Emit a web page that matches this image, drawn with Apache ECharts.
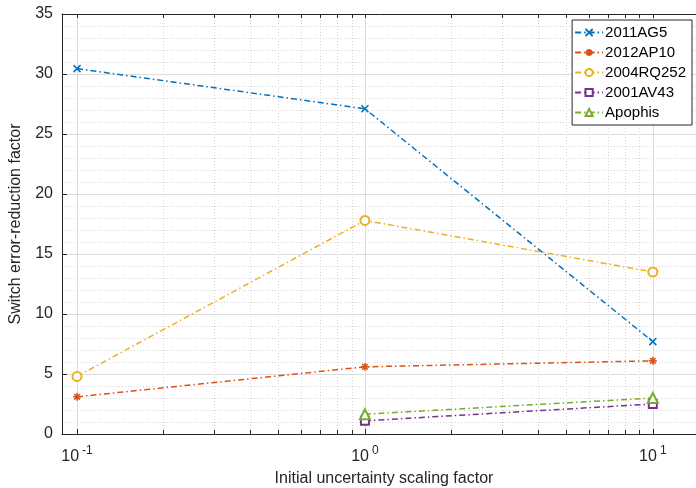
<!DOCTYPE html>
<html>
<head>
<meta charset="utf-8">
<script src="https://cdn.jsdelivr.net/npm/echarts@6/dist/echarts.min.js"></script>
<style>
  html, body { margin: 0; padding: 0; background: #fff; }
  #chart { width: 696px; height: 488px; }
</style>
</head>
<body>
<div id="chart"></div>
<script>
// scaling factors (x) and error-reduction factors (y)
var xValues = [0.1, 1, 10];
var ag5 = [30.45, 27.1, 7.7];
var ap10 = [3.1, 5.6, 6.1];
var rq252 = [4.8, 17.8, 13.5];
var av43 = [null, 1.1, 2.5];
var apophis = [null, 1.65, 3.0];

var majorTicks = [0.1, 1, 10];
var minorTicks = [0.2, 0.3, 0.4, 0.5, 0.6, 0.7, 0.8, 0.9, 2, 3, 4, 5, 6, 7, 8, 9];
var superscripts = { '0.1': '-1', '1': '0', '10': '1' };

var font = 'Liberation Sans, Arial, Helvetica, sans-serif';
var ink = '#262626';

function pairs(vals) {
  var out = [];
  for (var i = 0; i < xValues.length; i++) {
    if (vals[i] != null) out.push([xValues[i], vals[i]]);
  }
  return out;
}

var dashDot = [6, 3, 1.5, 3];
var xMin = 0.08867, xMax = 15.3;

var chart = echarts.init(document.getElementById('chart'), null, { renderer: 'canvas' });

function makeSeries(name, vals, color, symbol, size) {
  return {
    name: name,
    type: 'line',
    data: pairs(vals),
    symbol: symbol,
    symbolSize: size,
    showAllSymbol: true,
    lineStyle: { color: color, width: 1.5, type: dashDot },
    itemStyle: { color: color, borderColor: color, borderWidth: 1.5 },
    emphasis: { disabled: true },
    z: 5
  };
}

var option = {
  animation: false,
  backgroundColor: '#fff',
  textStyle: { fontFamily: font },
  grid: { left: 62, right: -10, top: 14, bottom: 54, containLabel: false, outerBoundsMode: 'none' },
  legend: {
    orient: 'vertical',
    right: 4,
    top: 20,
    backgroundColor: '#fff',
    borderColor: ink,
    borderWidth: 1,
    borderRadius: 0,
    padding: [5, 6, 5, 2],
    itemWidth: 28,
    itemHeight: 9,
    itemGap: 5,
    textStyle: { fontFamily: font, fontSize: 15, color: '#000', padding: [0, 0, 0, -3] },
    data: ['2011AG5', '2012AP10', '2004RQ252', '2001AV43', 'Apophis']
  },
  xAxis: [
    {
      type: 'log',
      min: xMin,
      max: xMax,
      position: 'bottom',
      name: 'Initial uncertainty scaling factor',
      nameLocation: 'middle',
      nameGap: 37,
      nameTextStyle: { fontFamily: font, fontSize: 16, color: ink },
      axisLine: { show: true, lineStyle: { color: ink, width: 1 } },
      axisTick: { show: true, inside: true, length: 5, customValues: majorTicks, lineStyle: { color: ink } },
      axisLabel: {
        customValues: majorTicks,
        margin: 11,
        formatter: function (v) {
          var key = String(Math.round(v * 10) / 10);
          return '{b|10}{s|' + (superscripts[key] || '') + '}';
        },
        rich: {
          b: { fontFamily: font, fontSize: 16, color: ink },
          s: { fontFamily: font, fontSize: 12, color: ink, verticalAlign: 'top', padding: [0, 0, 12, 3] }
        }
      },
      splitLine: { show: true, lineStyle: { color: '#dcdcdc', width: 1 } }
    },
    {
      type: 'log',
      min: xMin,
      max: xMax,
      position: 'bottom',
      axisLine: { show: false },
      axisTick: { show: true, inside: true, length: 4, customValues: minorTicks, lineStyle: { color: ink } },
      axisLabel: { show: false },
      splitLine: { show: true, lineStyle: { color: '#d6d6d6', width: 1, type: [1, 2] } }
    },
    {
      type: 'log',
      min: xMin,
      max: xMax,
      position: 'top',
      axisLine: { show: true, lineStyle: { color: ink, width: 1 } },
      axisTick: { show: true, inside: true, length: 4, customValues: majorTicks.concat(minorTicks), lineStyle: { color: ink } },
      axisLabel: { show: false },
      splitLine: { show: false }
    }
  ],
  yAxis: {
    type: 'value',
    min: 0,
    max: 35,
    interval: 5,
    name: 'Switch error-reduction factor',
    nameLocation: 'middle',
    nameGap: 38,
    nameTextStyle: { fontFamily: font, fontSize: 16, color: ink },
    axisLine: { show: true, lineStyle: { color: ink, width: 1 } },
    axisTick: { show: true, inside: true, length: 5, lineStyle: { color: ink } },
    axisLabel: { fontFamily: font, fontSize: 16, color: ink, margin: 9 },
    splitLine: { show: true, lineStyle: { color: '#dcdcdc', width: 1 } },
    minorTick: { show: false, splitNumber: 5 },
    minorSplitLine: { show: true, lineStyle: { color: '#d6d6d6', width: 1, type: [1, 2] } }
  },
  series: [
    makeSeries('2011AG5', ag5, '#0072BD', 'path://M0,0L10,10M10,0L0,10', 7),
    makeSeries('2012AP10', ap10, '#D95319', 'path://M5,0L5,10M0,5L10,5M1.5,1.5L8.5,8.5M8.5,1.5L1.5,8.5', 8),
    makeSeries('2004RQ252', rq252, '#EDB120', 'emptyCircle', 9),
    makeSeries('2001AV43', av43, '#7E2F8E', 'emptyRect', 8),
    makeSeries('Apophis', apophis, '#77AC30', 'emptyTriangle', 10)
  ]
};

chart.setOption(option);
</script>
</body>
</html>
